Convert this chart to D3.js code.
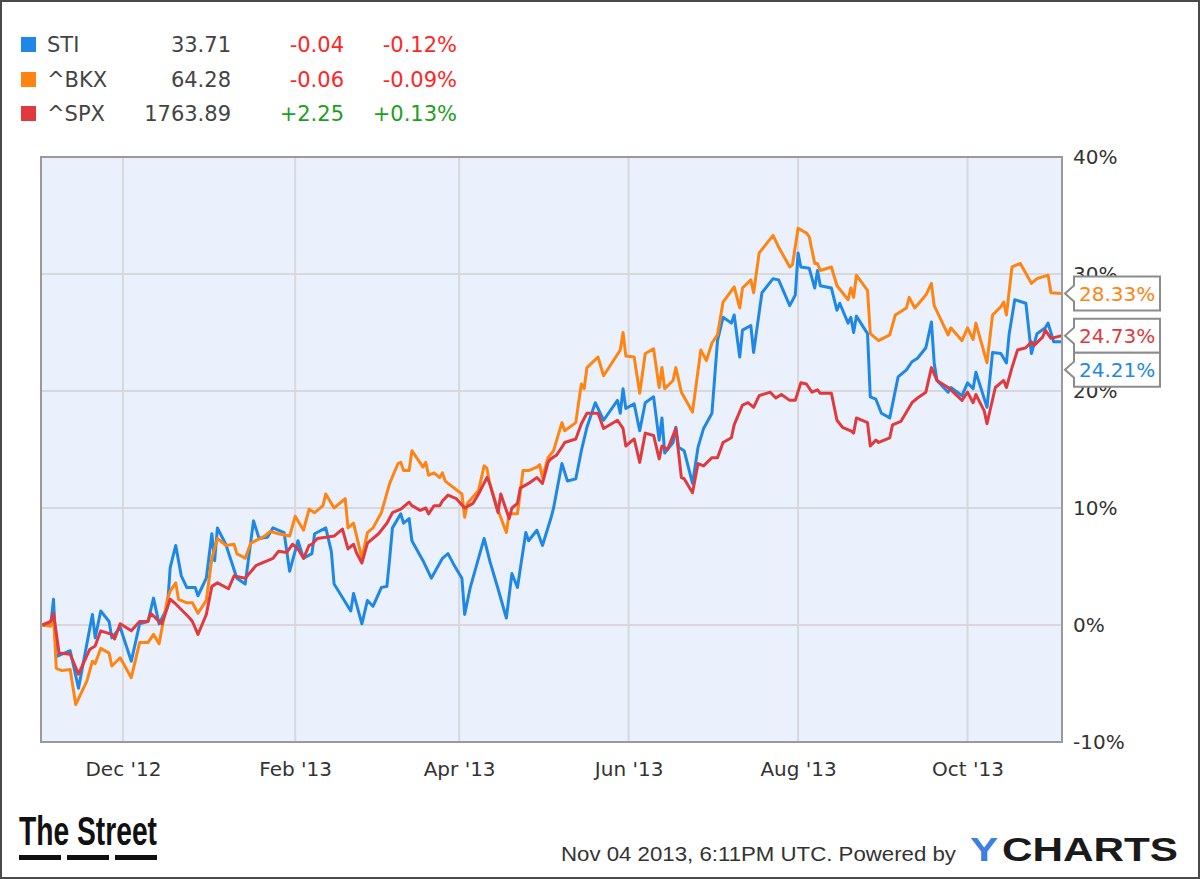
<!DOCTYPE html>
<html>
<head>
<meta charset="utf-8">
<script src="https://cdn.jsdelivr.net/npm/d3@7"></script>
<style>
  body { margin: 0; background: #fff; }
  svg { display: block; }
</style>
</head>
<body>
<svg id="chart"></svg>
<script>
// set up constants
const width = 1200;
const height = 879;
const plot = { left: 41, top: 157, right: 1062, bottom: 742 };

// legend data
const tickers = ['STI', '^BKX', '^SPX'];
const prices = ['33.71', '64.28', '1763.89'];
const changes = ['-0.04', '-0.06', '+2.25'];
const pctChanges = ['-0.12%', '-0.09%', '+0.13%'];
const colors = ['#1f88e6', '#ff8412', '#e03a3e'];

const yTicks = [-10, 0, 10, 20, 30, 40];
const xTickDates = ['2012-12-01', '2013-02-01', '2013-04-01', '2013-06-01', '2013-08-01', '2013-10-01'];
const lastValues = ['24.21%', '28.33%', '24.73%'];

// % change since start, [date, value]
const stiData = [
  ['2012-11-02', 0.0], ['2012-11-05', 0.0], ['2012-11-06', 2.2], ['2012-11-07', -2.7], ['2012-11-12', -2.2],
  ['2012-11-15', -5.4], ['2012-11-20', 0.9], ['2012-11-21', -1.1], ['2012-11-23', 1.2], ['2012-11-26', 0.3],
  ['2012-11-27', -1.1], ['2012-11-30', -0.2], ['2012-12-04', -3.1], ['2012-12-07', 0.1], ['2012-12-10', 0.3],
  ['2012-12-12', 2.3], ['2012-12-14', 0.1], ['2012-12-17', 1.5], ['2012-12-18', 4.9], ['2012-12-20', 6.8],
  ['2012-12-22', 4.2], ['2012-12-24', 3.2], ['2012-12-27', 3.2], ['2012-12-28', 2.5], ['2012-12-31', 4.0],
  ['2013-01-02', 7.8], ['2013-01-03', 5.5], ['2013-01-04', 8.3], ['2013-01-07', 6.9], ['2013-01-11', 4.0],
  ['2013-01-14', 3.5], ['2013-01-17', 8.9], ['2013-01-19', 7.4], ['2013-01-22', 7.5], ['2013-01-24', 8.3],
  ['2013-01-28', 7.9], ['2013-01-30', 4.6], ['2013-02-02', 7.2], ['2013-02-04', 5.7], ['2013-02-07', 6.1],
  ['2013-02-08', 7.8], ['2013-02-12', 8.3], ['2013-02-14', 6.3], ['2013-02-15', 3.5], ['2013-02-21', 1.2],
  ['2013-02-22', 2.7], ['2013-02-25', 0.1], ['2013-02-27', 2.1], ['2013-03-01', 1.6], ['2013-03-04', 3.2],
  ['2013-03-06', 3.3], ['2013-03-07', 5.7], ['2013-03-08', 8.3], ['2013-03-11', 9.5], ['2013-03-12', 8.7],
  ['2013-03-14', 9.1], ['2013-03-15', 7.2], ['2013-03-19', 5.5], ['2013-03-22', 4.0], ['2013-03-26', 5.7],
  ['2013-03-28', 6.1], ['2013-03-30', 5.2], ['2013-04-02', 4.0], ['2013-04-03', 0.9], ['2013-04-05', 3.2],
  ['2013-04-10', 7.4], ['2013-04-12', 5.5], ['2013-04-15', 3.1], ['2013-04-18', 0.6], ['2013-04-20', 4.4],
  ['2013-04-22', 3.2], ['2013-04-25', 7.9], ['2013-04-26', 7.2], ['2013-04-29', 8.1], ['2013-05-01', 6.8],
  ['2013-05-04', 9.1], ['2013-05-05', 10.0], ['2013-05-08', 13.8], ['2013-05-10', 12.3], ['2013-05-13', 12.5],
  ['2013-05-15', 14.9], ['2013-05-17', 16.9], ['2013-05-20', 19.0], ['2013-05-23', 17.5], ['2013-05-28', 19.2],
  ['2013-05-29', 18.1], ['2013-05-30', 20.2], ['2013-05-31', 18.5], ['2013-06-03', 18.9], ['2013-06-05', 16.6],
  ['2013-06-07', 19.0], ['2013-06-10', 19.5], ['2013-06-12', 15.8], ['2013-06-13', 17.7], ['2013-06-14', 14.7],
  ['2013-06-17', 15.6], ['2013-06-18', 16.9], ['2013-06-19', 15.2], ['2013-06-21', 14.9], ['2013-06-24', 12.1],
  ['2013-06-26', 15.2], ['2013-06-28', 16.8], ['2013-07-01', 18.1], ['2013-07-02', 21.2], ['2013-07-03', 24.3],
  ['2013-07-05', 26.3], ['2013-07-08', 25.8], ['2013-07-09', 26.5], ['2013-07-11', 22.9], ['2013-07-12', 25.2],
  ['2013-07-15', 25.6], ['2013-07-16', 23.3], ['2013-07-19', 28.4], ['2013-07-23', 29.6], ['2013-07-25', 29.5],
  ['2013-07-29', 27.3], ['2013-07-31', 28.2], ['2013-08-01', 31.8], ['2013-08-02', 30.6], ['2013-08-05', 30.5],
  ['2013-08-07', 28.8], ['2013-08-08', 30.3], ['2013-08-09', 29.0], ['2013-08-13', 28.8], ['2013-08-15', 26.9],
  ['2013-08-16', 27.5], ['2013-08-19', 25.8], ['2013-08-20', 26.3], ['2013-08-21', 25.0], ['2013-08-22', 26.4],
  ['2013-08-26', 24.9], ['2013-08-27', 19.5], ['2013-08-29', 19.3], ['2013-08-31', 18.1], ['2013-09-03', 17.7],
  ['2013-09-06', 21.2], ['2013-09-09', 21.8], ['2013-09-11', 22.5], ['2013-09-13', 22.8], ['2013-09-16', 23.7],
  ['2013-09-18', 25.9], ['2013-09-19', 22.4], ['2013-09-20', 20.9], ['2013-09-24', 19.9], ['2013-09-25', 20.3],
  ['2013-09-29', 19.6], ['2013-10-01', 20.7], ['2013-10-03', 20.2], ['2013-10-04', 21.6], ['2013-10-08', 18.6],
  ['2013-10-10', 23.3], ['2013-10-13', 23.2], ['2013-10-15', 22.4], ['2013-10-16', 24.9], ['2013-10-18', 27.8],
  ['2013-10-22', 27.5], ['2013-10-24', 23.2], ['2013-10-26', 24.9], ['2013-10-29', 25.4], ['2013-10-30', 25.8],
  ['2013-11-01', 24.2], ['2013-11-04', 24.21]
];

const bkxData = [
  ['2012-11-02', 0.0], ['2012-11-05', -0.1], ['2012-11-06', 0.9], ['2012-11-07', -3.7], ['2012-11-09', -3.9],
  ['2012-11-12', -3.8], ['2012-11-14', -6.8], ['2012-11-18', -4.8], ['2012-11-20', -3.1], ['2012-11-21', -3.3],
  ['2012-11-23', -2.0], ['2012-11-26', -2.4], ['2012-11-27', -3.5], ['2012-11-30', -2.8], ['2012-12-04', -4.5],
  ['2012-12-07', -1.5], ['2012-12-10', -1.5], ['2012-12-12', -0.8], ['2012-12-14', -1.6], ['2012-12-17', 2.2],
  ['2012-12-18', 2.9], ['2012-12-20', 3.6], ['2012-12-21', 2.2], ['2012-12-24', 1.9], ['2012-12-26', 1.9],
  ['2012-12-28', 1.0], ['2012-12-31', 2.1], ['2013-01-02', 5.7], ['2013-01-04', 7.4], ['2013-01-07', 6.8],
  ['2013-01-10', 6.9], ['2013-01-11', 6.1], ['2013-01-14', 5.7], ['2013-01-16', 7.0], ['2013-01-21', 7.6],
  ['2013-01-23', 8.0], ['2013-01-26', 7.8], ['2013-01-30', 7.6], ['2013-02-01', 9.3], ['2013-02-04', 8.1],
  ['2013-02-06', 9.9], ['2013-02-08', 9.6], ['2013-02-11', 10.2], ['2013-02-12', 11.2], ['2013-02-15', 10.0],
  ['2013-02-19', 10.8], ['2013-02-20', 8.3], ['2013-02-22', 8.7], ['2013-02-25', 5.7], ['2013-02-27', 7.9],
  ['2013-03-01', 8.3], ['2013-03-04', 9.6], ['2013-03-07', 12.1], ['2013-03-10', 13.8], ['2013-03-11', 13.9],
  ['2013-03-12', 13.2], ['2013-03-14', 13.2], ['2013-03-15', 14.9], ['2013-03-19', 13.5], ['2013-03-20', 13.9],
  ['2013-03-21', 12.8], ['2013-03-23', 13.0], ['2013-03-25', 12.6], ['2013-03-26', 13.0], ['2013-03-27', 12.3],
  ['2013-04-02', 11.2], ['2013-04-03', 9.2], ['2013-04-04', 10.4], ['2013-04-08', 11.5], ['2013-04-10', 13.6],
  ['2013-04-11', 13.4], ['2013-04-12', 12.1], ['2013-04-15', 9.8], ['2013-04-18', 7.9], ['2013-04-19', 9.5],
  ['2013-04-22', 9.5], ['2013-04-24', 13.2], ['2013-04-26', 13.2], ['2013-04-29', 13.5], ['2013-04-30', 13.7],
  ['2013-05-01', 12.6], ['2013-05-03', 14.3], ['2013-05-05', 14.9], ['2013-05-08', 17.3], ['2013-05-09', 16.6],
  ['2013-05-13', 17.3], ['2013-05-14', 19.0], ['2013-05-15', 20.6], ['2013-05-16', 20.2], ['2013-05-17', 22.0],
  ['2013-05-21', 22.9], ['2013-05-23', 21.3], ['2013-05-29', 23.5], ['2013-05-30', 25.0], ['2013-05-31', 23.0],
  ['2013-06-03', 22.9], ['2013-06-05', 19.8], ['2013-06-07', 23.2], ['2013-06-10', 23.6], ['2013-06-12', 20.3],
  ['2013-06-13', 22.0], ['2013-06-14', 20.2], ['2013-06-17', 20.9], ['2013-06-18', 22.0], ['2013-06-20', 19.9],
  ['2013-06-24', 18.2], ['2013-06-27', 23.5], ['2013-06-29', 22.6], ['2013-07-01', 24.1], ['2013-07-03', 24.8],
  ['2013-07-05', 27.6], ['2013-07-09', 28.9], ['2013-07-11', 27.1], ['2013-07-12', 28.8], ['2013-07-15', 29.5],
  ['2013-07-16', 28.4], ['2013-07-18', 31.8], ['2013-07-23', 33.3], ['2013-07-25', 32.3], ['2013-07-29', 30.6],
  ['2013-07-30', 30.8], ['2013-08-01', 33.9], ['2013-08-04', 33.5], ['2013-08-05', 33.2], ['2013-08-07', 30.9],
  ['2013-08-08', 30.9], ['2013-08-09', 30.3], ['2013-08-13', 30.6], ['2013-08-15', 29.0], ['2013-08-19', 27.8],
  ['2013-08-20', 28.8], ['2013-08-21', 28.0], ['2013-08-22', 29.9], ['2013-08-26', 28.6], ['2013-08-27', 24.9],
  ['2013-08-30', 24.3], ['2013-09-03', 24.8], ['2013-09-05', 26.5], ['2013-09-09', 27.1], ['2013-09-10', 28.0],
  ['2013-09-12', 27.1], ['2013-09-16', 28.2], ['2013-09-18', 29.2], ['2013-09-19', 27.3], ['2013-09-24', 24.8],
  ['2013-09-25', 25.4], ['2013-09-29', 24.3], ['2013-10-01', 25.4], ['2013-10-03', 24.4], ['2013-10-04', 25.8],
  ['2013-10-08', 22.4], ['2013-10-10', 26.5], ['2013-10-13', 27.2], ['2013-10-14', 27.6], ['2013-10-15', 26.5],
  ['2013-10-17', 30.6], ['2013-10-20', 30.9], ['2013-10-24', 29.2], ['2013-10-26', 29.6], ['2013-10-30', 29.9],
  ['2013-10-31', 28.4], ['2013-11-04', 28.33]
];

const spxData = [
  ['2012-11-02', 0.0], ['2012-11-05', 0.3], ['2012-11-06', 1.0], ['2012-11-08', -2.4], ['2012-11-12', -2.5],
  ['2012-11-15', -4.2], ['2012-11-19', -2.1], ['2012-11-21', -1.8], ['2012-11-23', -0.5], ['2012-11-27', -0.8],
  ['2012-11-28', -1.2], ['2012-11-30', 0.1], ['2012-12-04', -0.5], ['2012-12-07', 0.3], ['2012-12-10', 0.3],
  ['2012-12-11', 1.0], ['2012-12-15', 0.1], ['2012-12-18', 2.2], ['2012-12-20', 1.8], ['2012-12-25', 0.6],
  ['2012-12-26', 0.3], ['2012-12-28', -0.8], ['2012-12-31', 0.9], ['2013-01-02', 3.3], ['2013-01-04', 3.6],
  ['2013-01-08', 3.1], ['2013-01-10', 4.2], ['2013-01-14', 4.0], ['2013-01-18', 5.1], ['2013-01-24', 5.7],
  ['2013-01-26', 6.3], ['2013-01-29', 6.2], ['2013-01-31', 6.9], ['2013-02-02', 6.5], ['2013-02-04', 5.7],
  ['2013-02-06', 6.8], ['2013-02-07', 6.9], ['2013-02-09', 7.4], ['2013-02-15', 7.6], ['2013-02-18', 8.2],
  ['2013-02-20', 6.5], ['2013-02-22', 6.9], ['2013-02-23', 6.2], ['2013-02-25', 5.3], ['2013-02-27', 7.0],
  ['2013-03-03', 7.8], ['2013-03-06', 8.7], ['2013-03-08', 9.6], ['2013-03-11', 9.9], ['2013-03-14', 10.5],
  ['2013-03-15', 10.2], ['2013-03-18', 9.8], ['2013-03-20', 10.0], ['2013-03-21', 9.5], ['2013-03-23', 10.2],
  ['2013-03-25', 10.2], ['2013-03-26', 10.6], ['2013-03-28', 11.1], ['2013-03-31', 10.8], ['2013-04-03', 10.0],
  ['2013-04-06', 10.4], ['2013-04-08', 11.2], ['2013-04-11', 12.6], ['2013-04-12', 12.1], ['2013-04-15', 9.6],
  ['2013-04-16', 11.2], ['2013-04-19', 9.1], ['2013-04-20', 10.0], ['2013-04-22', 10.4], ['2013-04-23', 11.7],
  ['2013-04-26', 12.1], ['2013-04-29', 12.6], ['2013-05-01', 12.1], ['2013-05-03', 13.9], ['2013-05-04', 14.2],
  ['2013-05-06', 14.5], ['2013-05-08', 15.2], ['2013-05-09', 15.6], ['2013-05-13', 15.9], ['2013-05-15', 17.2],
  ['2013-05-17', 18.1], ['2013-05-21', 18.1], ['2013-05-23', 16.8], ['2013-05-28', 17.5], ['2013-05-30', 16.8],
  ['2013-05-31', 15.3], ['2013-06-03', 15.9], ['2013-06-05', 13.9], ['2013-06-07', 16.4], ['2013-06-10', 16.2],
  ['2013-06-12', 14.2], ['2013-06-13', 15.3], ['2013-06-15', 15.0], ['2013-06-18', 16.8], ['2013-06-20', 12.6],
  ['2013-06-21', 12.5], ['2013-06-24', 11.3], ['2013-06-26', 13.8], ['2013-06-28', 13.6], ['2013-07-01', 14.3],
  ['2013-07-03', 14.3], ['2013-07-05', 15.6], ['2013-07-08', 16.0], ['2013-07-09', 17.1], ['2013-07-12', 18.8],
  ['2013-07-14', 19.0], ['2013-07-16', 18.6], ['2013-07-18', 19.6], ['2013-07-22', 19.9], ['2013-07-24', 19.4],
  ['2013-07-26', 19.7], ['2013-07-29', 19.2], ['2013-07-31', 19.2], ['2013-08-02', 20.7], ['2013-08-04', 20.6],
  ['2013-08-06', 19.9], ['2013-08-08', 20.1], ['2013-08-09', 19.8], ['2013-08-13', 19.8], ['2013-08-15', 17.5],
  ['2013-08-17', 16.9], ['2013-08-20', 16.6], ['2013-08-21', 16.4], ['2013-08-22', 17.7], ['2013-08-26', 17.3],
  ['2013-08-27', 15.3], ['2013-08-29', 15.8], ['2013-08-30', 15.6], ['2013-09-03', 16.0], ['2013-09-04', 17.1],
  ['2013-09-07', 17.4], ['2013-09-11', 19.0], ['2013-09-13', 19.4], ['2013-09-16', 19.9], ['2013-09-18', 22.0],
  ['2013-09-20', 20.9], ['2013-09-24', 20.3], ['2013-09-25', 20.1], ['2013-09-29', 19.2], ['2013-10-01', 19.9],
  ['2013-10-03', 19.0], ['2013-10-04', 19.7], ['2013-10-07', 18.3], ['2013-10-08', 17.2], ['2013-10-11', 20.3],
  ['2013-10-14', 20.9], ['2013-10-15', 20.3], ['2013-10-17', 22.0], ['2013-10-19', 23.5], ['2013-10-22', 23.7],
  ['2013-10-24', 24.2], ['2013-10-25', 23.9], ['2013-10-28', 24.6], ['2013-10-29', 25.2], ['2013-10-31', 24.5],
  ['2013-11-04', 24.73]
];

const parseDate = d3.timeParse('%Y-%m-%d');
const series = [stiData, bkxData, spxData].map(arr => arr.map(d => ({ date: parseDate(d[0]), value: d[1] })));

const axisFont = 'DejaVu Sans, Verdana, sans-serif';

// create SVG element
const svg = d3.select('#chart')
  .attr('width', width)
  .attr('height', height);

svg.append('rect')
  .attr('x', 1).attr('y', 1)
  .attr('width', width - 2).attr('height', height - 2)
  .attr('fill', '#fff')
  .attr('stroke', '#4a4a4a')
  .attr('stroke-width', 2);

// scales
const xScale = d3.scaleTime()
  .domain([new Date(2012, 10, 1, 12), new Date(2013, 10, 4)])
  .range([plot.left, plot.right]);

const yScale = d3.scaleLinear()
  .domain([-10, 40])
  .range([plot.bottom, plot.top]);

// plot background
svg.append('rect')
  .attr('x', plot.left).attr('y', plot.top)
  .attr('width', plot.right - plot.left)
  .attr('height', plot.bottom - plot.top)
  .attr('fill', '#eaf1fc');

// gridlines
const grid = svg.append('g').attr('stroke', '#d7d8da').attr('stroke-width', 2);
grid.selectAll('line.h')
  .data(yTicks.slice(1, -1))
  .enter().append('line')
  .attr('x1', plot.left).attr('x2', plot.right)
  .attr('y1', d => yScale(d)).attr('y2', d => yScale(d));
grid.selectAll('line.v')
  .data(xTickDates.map(parseDate))
  .enter().append('line')
  .attr('x1', d => xScale(d)).attr('x2', d => xScale(d))
  .attr('y1', plot.top).attr('y2', plot.bottom);

// lines
const line = d3.line()
  .x(d => xScale(d.date))
  .y(d => yScale(d.value));

svg.append('g')
  .selectAll('path')
  .data(series)
  .enter().append('path')
  .attr('d', line)
  .attr('fill', 'none')
  .attr('stroke', (d, i) => colors[i])
  .attr('stroke-width', 3)
  .attr('stroke-linejoin', 'round');

// plot border
svg.append('rect')
  .attr('x', plot.left).attr('y', plot.top)
  .attr('width', plot.right - plot.left)
  .attr('height', plot.bottom - plot.top)
  .attr('fill', 'none')
  .attr('stroke', '#9a9a9a')
  .attr('stroke-width', 2);

// x axis labels
const xAxis = d3.axisBottom(xScale)
  .tickValues(xTickDates.map(parseDate))
  .tickFormat(d3.timeFormat("%b '%y"))
  .tickSize(0)
  .tickPadding(20);

const gx = svg.append('g')
  .attr('transform', `translate(0, ${plot.bottom})`)
  .call(xAxis);
gx.select('.domain').remove();
gx.selectAll('text')
  .attr('font-family', axisFont)
  .attr('font-size', 20)
  .attr('fill', '#333');

// y axis labels on the right
const yAxis = d3.axisRight(yScale)
  .tickValues(yTicks)
  .tickFormat(d => d + '%')
  .tickSize(0)
  .tickPadding(11);

const gy = svg.append('g')
  .attr('transform', `translate(${plot.right}, 0)`)
  .call(yAxis);
gy.select('.domain').remove();
gy.selectAll('text')
  .attr('font-family', axisFont)
  .attr('font-size', 20)
  .attr('fill', '#333');

// end value callouts
const boxH = 34;
const callouts = series.map((s, i) => ({ i, y: yScale(s[s.length - 1].value), label: lastValues[i] }))
  .sort((a, b) => a.y - b.y);
for (let k = 1; k < callouts.length; k++) {
  if (callouts[k].y < callouts[k - 1].y + boxH) callouts[k].y = callouts[k - 1].y + boxH;
}

const bx0 = 1074, bx1 = 1160, tip = 1065;
const cg = svg.append('g');
callouts.forEach(c => {
  const top = c.y - boxH / 2, bot = c.y + boxH / 2;
  const p = d3.path();
  p.moveTo(tip, c.y);
  p.lineTo(bx0, c.y - 8);
  p.lineTo(bx0, top);
  p.lineTo(bx1, top);
  p.lineTo(bx1, bot);
  p.lineTo(bx0, bot);
  p.lineTo(bx0, c.y + 8);
  p.closePath();
  cg.append('path')
    .attr('d', p.toString())
    .attr('fill', '#fff')
    .attr('stroke', '#8c8c8c')
    .attr('stroke-width', 2);
  cg.append('text')
    .attr('x', bx0 + 5)
    .attr('y', c.y)
    .attr('dy', '0.36em')
    .attr('font-family', axisFont)
    .attr('font-size', 20)
    .attr('fill', colors[c.i])
    .text(c.label);
});

// legend
const legend = svg.append('g');
const rowY = [52, 87, 121];
tickers.forEach((t, i) => {
  const g = legend.append('g').attr('transform', `translate(0, ${rowY[i]})`);
  g.append('rect')
    .attr('x', 21).attr('y', -15)
    .attr('width', 15).attr('height', 15)
    .attr('fill', colors[i]);
  const up = changes[i].startsWith('+');
  const cols = [
    { x: 47, anchor: 'start', text: t, fill: '#444' },
    { x: 231, anchor: 'end', text: prices[i], fill: '#444' },
    { x: 344, anchor: 'end', text: changes[i], fill: up ? '#1e9e1e' : '#ff2626' },
    { x: 457, anchor: 'end', text: pctChanges[i], fill: up ? '#1e9e1e' : '#ff2626' }
  ];
  cols.forEach(c => {
    g.append('text')
      .attr('x', c.x)
      .attr('text-anchor', c.anchor)
      .attr('font-family', axisFont)
      .attr('font-size', 21)
      .attr('fill', c.fill)
      .text(c.text);
  });
});

// footer
const footer = svg.append('g');
footer.append('text')
  .attr('x', 19).attr('y', 845)
  .attr('font-family', 'Liberation Sans Narrow, Liberation Sans, Arial, sans-serif')
  .attr('font-weight', 'bold')
  .attr('font-size', 40)
  .attr('textLength', 138)
  .attr('lengthAdjust', 'spacingAndGlyphs')
  .attr('fill', '#111')
  .text('The Street');
footer.selectAll('rect.dash')
  .data([0, 1, 2])
  .enter().append('rect')
  .attr('x', d => 19 + d * 48)
  .attr('y', 855)
  .attr('width', 42)
  .attr('height', 5)
  .attr('fill', '#111');

footer.append('text')
  .attr('x', 561).attr('y', 861)
  .attr('font-family', 'Liberation Sans Narrow, Liberation Sans, Arial, sans-serif')
  .attr('font-size', 21)
  .attr('textLength', 395)
  .attr('lengthAdjust', 'spacingAndGlyphs')
  .attr('fill', '#333')
  .text('Nov 04 2013, 6:11PM UTC.  Powered by');

const yc = footer.append('text')
  .attr('x', 970).attr('y', 861)
  .attr('font-family', 'Liberation Sans, Arial, sans-serif')
  .attr('font-weight', 'bold')
  .attr('font-size', 33)
  .attr('textLength', 208)
  .attr('lengthAdjust', 'spacingAndGlyphs');
yc.append('tspan').attr('fill', '#3f7fe0').text('Y');
yc.append('tspan').attr('fill', '#1a1a1a').attr('dx', 3).text('CHARTS');
</script>
</body>
</html>
